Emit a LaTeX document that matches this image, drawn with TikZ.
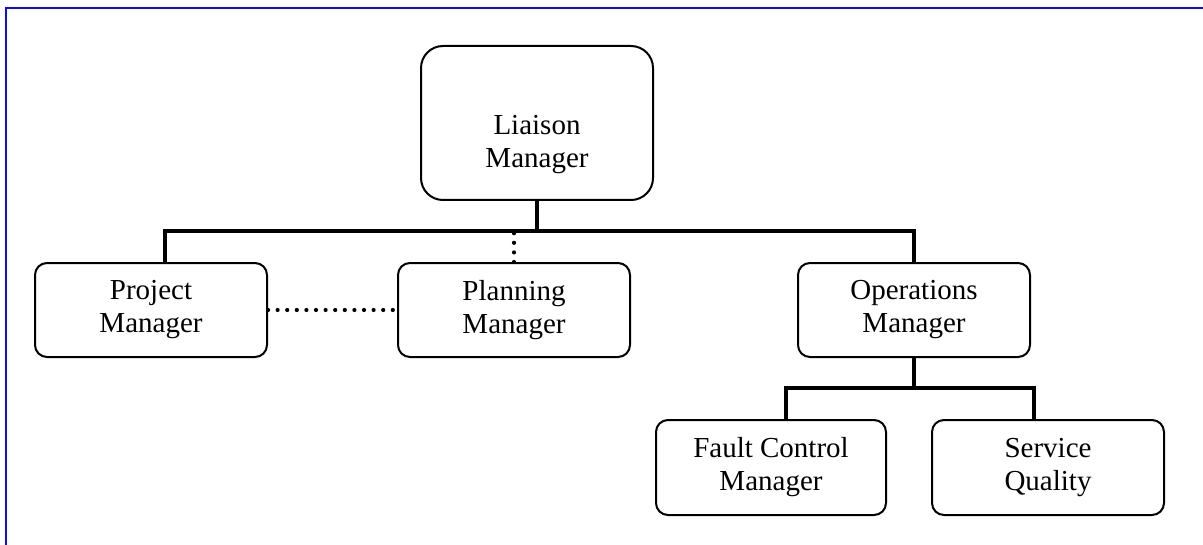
\documentclass[tikz,border=0pt]{standalone}
\usepackage{fontspec}
\setmainfont{Liberation Serif}
\usetikzlibrary{positioning}
\definecolor{OrgBlue}{HTML}{0A0AFF}

\begin{document}
\begin{tikzpicture}[
 x=0.5pt,y=-0.5pt,
 box/.style={draw,rounded corners=6pt,line width=1pt,align=center,minimum width=116pt,minimum height=47pt,inner sep=0pt,font=\fontsize{14.5}{16.5}\selectfont},
 topbox/.style={box,rounded corners=11pt,minimum height=77pt},
 link/.style={line width=1.8pt},
 dots/.style={line width=2.1pt,line cap=round,dash pattern=on 0pt off 4.8pt},
 frame/.style={draw=OrgBlue,line width=1.1pt}
]
\useasboundingbox (0,0) rectangle (1203,545);
\draw[frame] (6,545) -- (6,8) -- (1203,8);
\node[topbox] (lm) at (537,123) {\rule{0pt}{31pt}Liaison\\Manager};
\node[box] (pm) at (151,310) {Project\\Manager};
\node[box,right=64.5pt of pm] (plm) {Planning\\Manager};
\node[box] (om) at (914,310) {Operations\\Manager};
\node[box,minimum width=115pt,minimum height=47.5pt] (fc) at (771,467.5) {Fault Control\\Manager};
\node[box,minimum height=47.5pt,right=22pt of fc] (sq) {Service\\Quality};
\coordinate (bus) at (537,231);
\coordinate (sub) at (914,388);
\draw[link] (lm.south) -- (bus); \draw[link] ([xshift=7pt]pm.north) |- (bus) -| (om.north);
\draw[link] (om.south) -- (sub); \draw[link] ([xshift=7.5pt]fc.north) |- (sub) -| ([xshift=-7pt]sq.north);
\draw[dots] (plm.north) -- (plm.north |- bus); \draw[dots] (pm) -- (plm);
\end{tikzpicture}
\end{document}
